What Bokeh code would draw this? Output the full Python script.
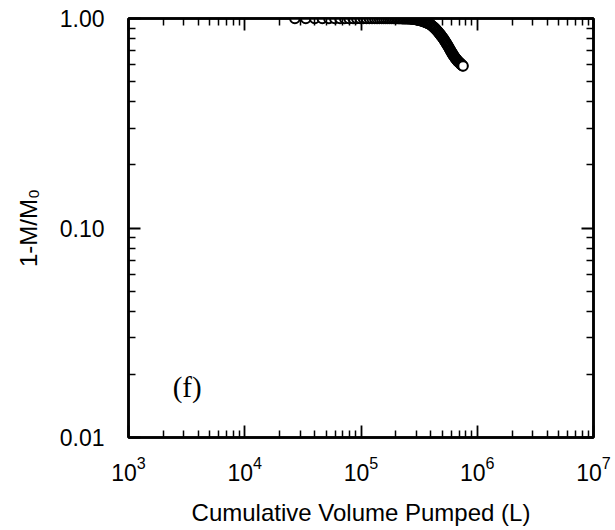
from bokeh.plotting import figure
from bokeh.models import FixedTicker, LogAxis, PrintfTickFormatter, Label, ColumnDataSource, CustomJSTickFormatter
from bokeh.embed import file_html
from bokeh.resources import INLINE

# Cumulative volume pumped (L)
volume = [
    27000, 33500, 40000, 46500, 53000, 59500, 66000, 72500, 79000, 85500,
    92000, 98500, 105000, 111500, 118000, 124500, 131000, 137500, 144000, 150500,
    157000, 163500, 170000, 176500, 183000, 189500, 196000, 202500, 209000, 215500,
    222000, 228500, 235000, 241500, 248000, 254500, 261000, 267500, 274000, 280500,
    287000, 293500, 300000, 306500, 313000, 319500, 326000, 332500, 339000, 345500,
    352000, 358500, 365000, 371500, 378000, 384500, 391000, 397500, 404000, 410500,
    417000, 423500, 430000, 436500, 443000, 449500, 456000, 462500, 469000, 475500,
    482000, 488500, 495000, 501500, 508000, 514500, 521000, 527500, 534000, 540500,
    547000, 553500, 560000, 566500, 573000, 579500, 586000, 592500, 599000, 605500,
    612000, 618500, 625000, 631500, 638000, 644500, 651000, 657500, 664000, 670500,
    677000, 683500, 690000, 696500, 703000, 709500, 716000, 722500, 729000, 735500,
    742000, 748500, 755000,
]
# 1 - M/M0
fraction = [
    1.0, 1.0, 1.0, 1.0, 1.0, 1.0, 1.0, 1.0, 1.0, 1.0,
    1.0, 1.0, 1.0, 1.0, 1.0, 1.0, 1.0, 1.0, 1.0, 1.0,
    1.0, 1.0, 1.0, 1.0, 1.0, 1.0, 1.0, 1.0, 0.999, 0.999,
    0.999, 0.998, 0.998, 0.998, 0.997, 0.997, 0.996, 0.995, 0.994, 0.993,
    0.992, 0.990, 0.988, 0.986, 0.983, 0.980, 0.977, 0.974, 0.971, 0.968,
    0.964, 0.960, 0.956, 0.952, 0.948, 0.944, 0.940, 0.935, 0.928, 0.921,
    0.914, 0.907, 0.900, 0.893, 0.885, 0.877, 0.869, 0.861, 0.853, 0.845,
    0.837, 0.829, 0.821, 0.813, 0.805, 0.797, 0.788, 0.779, 0.771, 0.763,
    0.755, 0.747, 0.739, 0.731, 0.723, 0.714, 0.706, 0.699, 0.692, 0.685,
    0.678, 0.672, 0.666, 0.660, 0.655, 0.650, 0.645, 0.641, 0.636, 0.632,
    0.628, 0.624, 0.621, 0.618, 0.615, 0.612, 0.609, 0.606, 0.603, 0.600,
    0.598, 0.595, 0.593,
]

x_major = [1e3, 1e4, 1e5, 1e6, 1e7]
x_minor = [m * 10 ** e for e in range(3, 7) for m in range(2, 10)]
y_major = [0.01, 0.1, 1.0]
y_minor = [m * 10.0 ** e for e in (-2, -1) for m in range(2, 10)]

panel_label = "(f)"
x_title = "Cumulative Volume Pumped (L)"
y_title = "1-M/M\u2080"

FONT = "Liberation Sans"

p = figure(
    width=613, height=528,
    x_axis_type="log", y_axis_type="log",
    x_range=(1e3, 1e7), y_range=(0.01, 1.0),
    output_backend="svg", toolbar_location=None,
    min_border_left=128, min_border_right=20, min_border_top=18, min_border_bottom=91,
    background_fill_color="white", border_fill_color="white",
)
p.grid.visible = False
p.outline_line_color = "black"
p.outline_line_width = 2.5

xt = FixedTicker(ticks=x_major, minor_ticks=x_minor)
yt = FixedTicker(ticks=y_major, minor_ticks=y_minor)


def style(ax, show_labels):
    ax.axis_line_color = "black"
    ax.axis_line_width = 2.5
    ax.major_tick_in = 12
    ax.major_tick_out = 0
    ax.minor_tick_in = 7
    ax.minor_tick_out = 0
    ax.major_tick_line_width = 1.8
    ax.minor_tick_line_width = 1.5
    ax.major_tick_line_color = "black"
    ax.minor_tick_line_color = "black"
    if show_labels:
        ax.major_label_text_font = FONT
        ax.major_label_text_font_size = "23px"
        ax.major_label_text_color = "black"
        ax.axis_label_text_font = FONT
        ax.axis_label_text_font_size = "24px"
        ax.axis_label_text_font_style = "normal"
        ax.axis_label_text_color = "black"
    else:
        ax.formatter = CustomJSTickFormatter(code="return ' ';")
        ax.major_label_text_font_size = "2px"
        ax.major_label_text_alpha = 0
        ax.major_label_standoff = 0


xa = p.xaxis[0]
xa.ticker = xt
style(xa, True)
xa.major_label_standoff = 18
xa.axis_label = x_title
xa.axis_label_standoff = 15

ya = p.yaxis[0]
ya.ticker = yt
ya.formatter = PrintfTickFormatter(format="%.2f")
style(ya, True)
ya.major_label_standoff = 24
ya.axis_label = y_title
ya.axis_label_standoff = 15

top = LogAxis(ticker=FixedTicker(ticks=x_major, minor_ticks=x_minor))
style(top, False)
p.add_layout(top, "above")
right = LogAxis(ticker=FixedTicker(ticks=y_major, minor_ticks=y_minor))
style(right, False)
p.add_layout(right, "right")

src = ColumnDataSource(data=dict(v=volume, f=fraction))
p.scatter("v", "f", source=src, marker="circle", size=9.5,
          fill_color="white", line_color="black", line_width=2)

p.add_layout(Label(x=2400, y=0.0175, text=panel_label, text_font="Liberation Serif",
                   text_font_size="29px", text_baseline="middle", text_align="left",
                   text_color="black"))

open("out.html", "w").write(file_html(p, INLINE))
